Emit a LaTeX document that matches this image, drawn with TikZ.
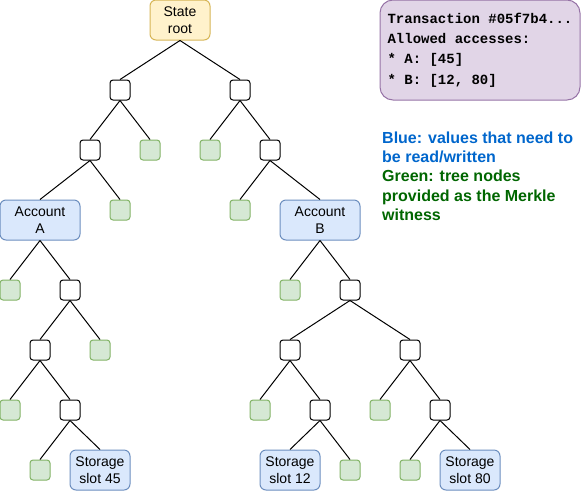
\documentclass[tikz,border=0pt]{standalone}
\usepackage{fontspec}
\setmainfont{Liberation Sans}
\setmonofont{Liberation Mono}
\usetikzlibrary{positioning}
\definecolor{rootfill}{HTML}{FFF2CC}
\definecolor{rootline}{HTML}{D6B656}
\definecolor{valuefill}{HTML}{DAE8FC}
\definecolor{valueline}{HTML}{6C8EBF}
\definecolor{witnessfill}{HTML}{D5E8D4}
\definecolor{witnessline}{HTML}{82B366}
\definecolor{txfill}{HTML}{E1D5E7}
\definecolor{txline}{HTML}{9673A6}
\definecolor{legendblue}{HTML}{0066CC}
\definecolor{legendgreen}{HTML}{006600}
\tikzset{
  hash/.style={
    draw=black,
    line width=1pt,
    fill=white,
    rounded corners=3pt,
    minimum size=20pt,
    inner sep=0pt
  },
  witness/.style={
    hash,
    draw=witnessline,
    fill=witnessfill
  },
  value/.style={
    draw=valueline,
    line width=1pt,
    fill=valuefill,
    rounded corners=6pt,
    minimum width=60pt,
    minimum height=40pt,
    inner sep=0pt,
    align=center,
    font=\fontsize{14}{16.8}\selectfont
  },
  stateroot/.style={
    value,
    draw=rootline,
    fill=rootfill
  },
  txbox/.style={
    draw=txline,
    line width=1pt,
    fill=txfill,
    rounded corners=13pt,
    minimum width=200pt,
    minimum height=100pt,
    inner sep=0pt,
    align=left,
    font=\fontsize{14}{20.3}\selectfont\ttfamily\bfseries
  },
  legend/.style={
    anchor=north west,
    inner sep=0pt,
    align=left,
    font=\fontsize{16}{19.2}\selectfont\bfseries
  },
  every edge/.style={
    draw=black,
    line width=1pt
  }
}

\begin{document}
\begin{tikzpicture}[x=1pt, y=-1pt]
  \useasboundingbox (0,0) rectangle (581,491);

  % tree
  \node[stateroot] (root) at (180,20) {State\\root};
  \node[hash] (hL) at (120,90) {};
  \node[hash] (hR) at (240,90) {};
  \node[hash] (hLL) at (90,150) {};
  \node[witness] (gLR) at (150,150) {};
  \node[witness] (gRL) at (210,150) {};
  \node[hash] (hRR) at (270,150) {};
  \node[value, minimum width=80pt] (accA) at (40,220) {Account\\A};
  \node[witness] (gA1) at (120,210) {};
  \node[witness] (gB1) at (240,210) {};
  \node[value, minimum width=80pt] (accB) at (320,220) {Account\\B};

  % storage of A
  \node[witness] (gA2) at (10,290) {};
  \node[hash] (hA2) at (70,290) {};
  \node[hash] (hA3) at (40,350) {};
  \node[witness] (gA3) at (100,350) {};
  \node[witness] (gA4) at (10,410) {};
  \node[hash] (hA4) at (70,410) {};
  \node[witness] (gA5) at (40,470) {};
  \node[value] (slot45) at (100,470) {Storage\\slot 45};

  % storage of B
  \node[witness] (gB2) at (290,290) {};
  \node[hash] (hB2) at (350,290) {};
  \node[hash] (hB3) at (290,350) {};
  \node[hash] (hB4) at (410,350) {};
  \node[witness] (gB3) at (260,410) {};
  \node[hash] (hB5) at (320,410) {};
  \node[witness] (gB4) at (380,410) {};
  \node[hash] (hB6) at (440,410) {};
  \node[value] (slot12) at (290,470) {Storage\\slot 12};
  \node[witness] (gB5) at (350,470) {};
  \node[witness] (gB6) at (410,470) {};
  \node[value] (slot80) at (470,470) {Storage\\slot 80};

  \foreach \p/\c in {root/hL, root/hR, hL/hLL, hL/gLR, hR/gRL, hR/hRR,
      hLL/accA, hLL/gA1, hRR/gB1, hRR/accB,
      accA/gA2, accA/hA2, hA2/hA3, hA2/gA3, hA3/gA4, hA3/hA4, hA4/gA5, hA4/slot45,
      accB/gB2, accB/hB2, hB2/hB3, hB2/hB4, hB3/gB3, hB3/hB5, hB4/gB4, hB4/hB6,
      hB5/slot12, hB5/gB5, hB6/gB6, hB6/slot80}
    \path (\p.south) edge (\c.north);

  % transaction and legend
  \node[txbox] (tx) at (480,50) {Transaction \#05f7b4...\\Allowed accesses:\\* A: [45]\\* B: [12, 80]};
  \node[legend, text=legendblue] (blue) at (382,132) {Blue: values that need to\\be read/written};
  \node[legend, text=legendgreen] (green) at (382,170) {Green: tree nodes\\provided as the Merkle\\witness};
\end{tikzpicture}
\end{document}
